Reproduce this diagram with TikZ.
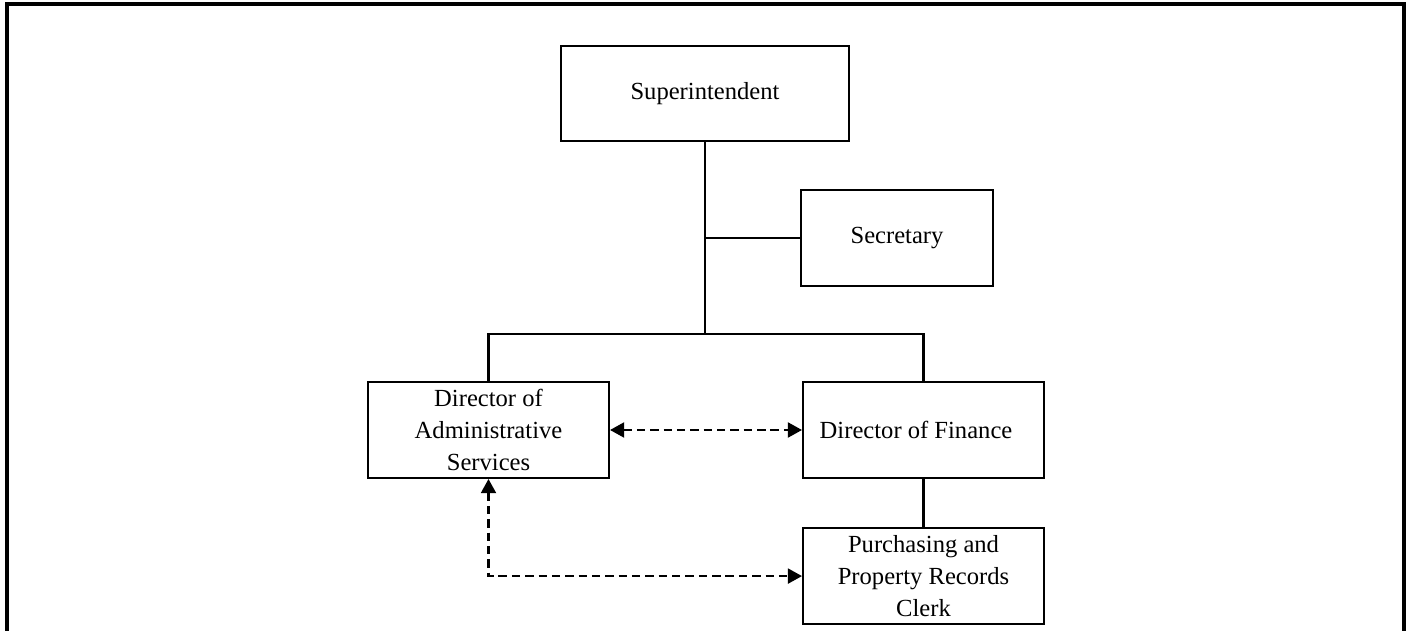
\documentclass[tikz,border=0pt]{standalone}
\usepackage{fontspec}
\setmainfont{Liberation Serif}
\usetikzlibrary{positioning}
\usetikzlibrary{arrows.meta}

\begin{document}
\begin{tikzpicture}[x=0.02cm, y=-0.02cm,
    box/.style={draw, line width=1.2pt, align=center, inner sep=0pt,
      minimum width=4.82cm, minimum height=1.92cm,
      font=\fontsize{14}{18.4}\selectfont},
    link/.style={line width=1.2pt},
    dashlink/.style={line width=1.2pt, dash pattern=on 4.8pt off 2.8pt,
      {Triangle[length=8pt,width=8.5pt]}-{Triangle[length=8pt,width=8.5pt]}}]
  \useasboundingbox (0,0) rectangle (1410,631);
  \draw[line width=1.8pt] (7,631) -- (7,4) -- (1404,4) -- (1404,631);

  \node[box, minimum width=5.76cm, minimum height=1.9cm] (sup) at (705,93.5) {Superintendent};
  \node[box, minimum width=3.84cm] (sec) at (897,238) {Secretary};
  \node[box] (admin) at (488.5,430) {Director of\\Administrative\\Services};
  \node[box, right=3.84cm of admin] (fin) {Director of Finance\hspace{0.3cm}};
  \node[box, below=0.96cm of fin] (purch) {Purchasing and\\Property Records\\Clerk};

  \coordinate (bus) at (705,334);
  \draw[link] (sup.south) -- (bus);
  \draw[link] (sec.west) -- (sec.west -| bus);
  \draw[link] (admin.north) |- (bus) -| (fin.north);
  \draw[link] (fin) -- (purch);

  \draw[dashlink] (admin) -- (fin);
  \draw[dashlink] (admin.south) |- (purch.west);
\end{tikzpicture}
\end{document}
